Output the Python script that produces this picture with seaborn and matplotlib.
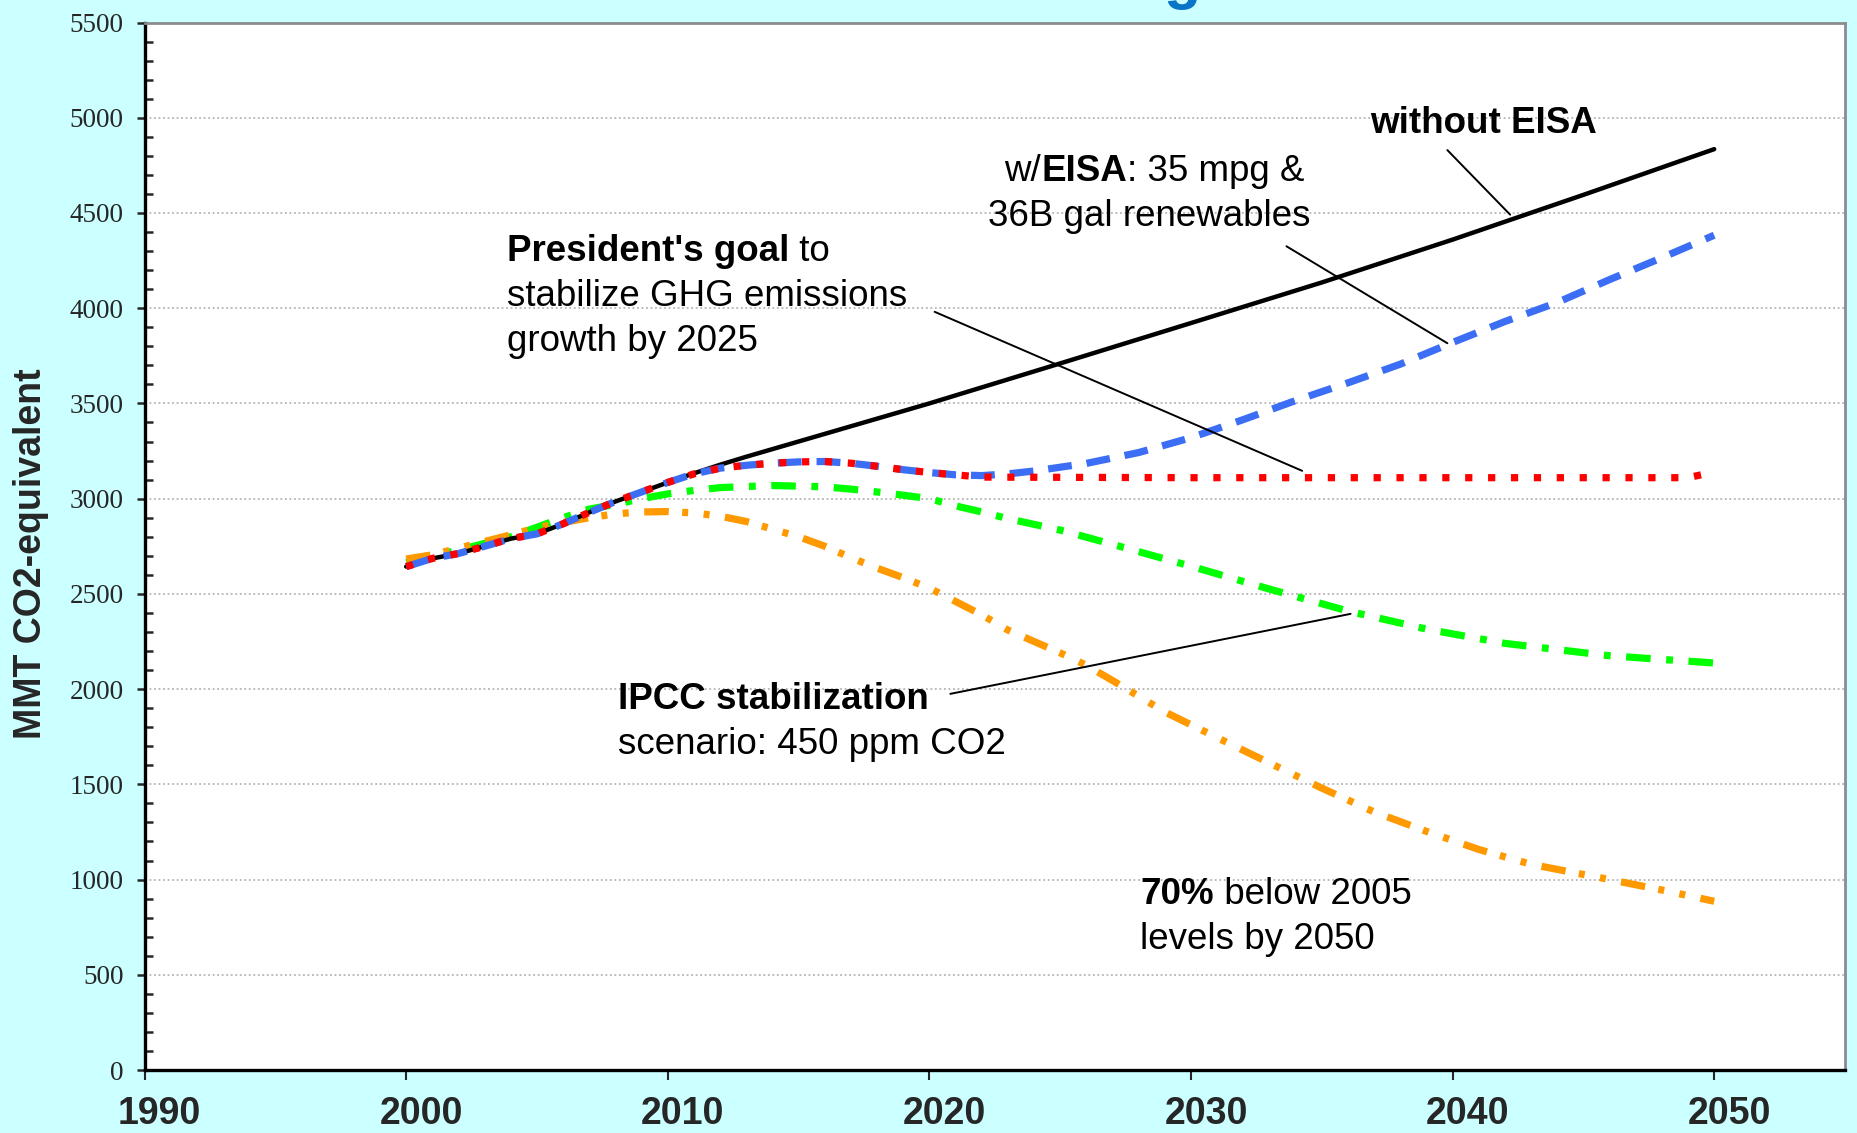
import matplotlib
matplotlib.use("Agg")
import matplotlib.pyplot as plt
import matplotlib.transforms as mtransforms
from matplotlib.ticker import MultipleLocator
import seaborn as sns

# --- values (MMT CO2-equivalent) ---
without_years = [2000, 2001, 2002, 2003, 2004, 2005, 2006, 2007, 2008, 2009, 2010,
                 2011, 2012, 2013, 2015, 2018, 2020, 2025, 2030, 2035, 2040, 2045, 2050]
without_vals = [2643, 2686, 2712, 2750, 2790, 2815, 2868, 2928, 2985, 3035, 3085,
                3133, 3178, 3220, 3300, 3420, 3500, 3710, 3922, 4135, 4360, 4595, 4835]

eisa_years = [2000, 2001, 2002, 2003, 2004, 2005, 2006, 2007, 2008, 2009, 2010,
              2011, 2012, 2013, 2014, 2015, 2016, 2017, 2018, 2019, 2020, 2021, 2022,
              2023, 2024, 2025, 2026, 2028, 2030, 2032, 2034, 2036, 2038, 2040,
              2042, 2044, 2046, 2048, 2050]
eisa_vals = [2643, 2686, 2712, 2750, 2790, 2815, 2868, 2928, 2985, 3035, 3085,
             3130, 3160, 3175, 3186, 3193, 3195, 3186, 3170, 3152, 3137, 3125, 3121,
             3130, 3145, 3165, 3185, 3242, 3320, 3415, 3515, 3608, 3706, 3820,
             3930, 4030, 4150, 4265, 4383]

goal_years = [2000, 2001, 2002, 2003, 2004, 2005, 2006, 2007, 2008, 2009, 2010,
              2011, 2012, 2013, 2014, 2015, 2016, 2017, 2018, 2019, 2020, 2021, 2022,
              2030, 2040, 2049, 2050]
goal_vals = [2643, 2686, 2712, 2750, 2790, 2815, 2868, 2928, 2985, 3035, 3085,
             3130, 3160, 3175, 3186, 3193, 3195, 3186, 3170, 3152, 3137, 3125, 3113,
             3110, 3110, 3110, 3140]

ipcc_years = [2000, 2001, 2002, 2003, 2004, 2005, 2006, 2007, 2008, 2009, 2010,
              2011, 2012, 2014, 2016, 2017, 2018, 2019, 2020, 2021, 2022, 2023,
              2025, 2027, 2030, 2033, 2036, 2039, 2042, 2046, 2050]
ipcc_vals = [2665, 2700, 2730, 2765, 2800, 2850, 2900, 2945, 2970, 3000, 3025,
             3043, 3058, 3069, 3062, 3050, 3035, 3018, 3000, 2962, 2930, 2895,
             2835, 2760, 2645, 2525, 2410, 2315, 2240, 2175, 2137]

cut70_years = [2000, 2001, 2002, 2003, 2004, 2005, 2006, 2007, 2008, 2009, 2010,
               2011, 2012, 2013, 2014, 2015, 2016, 2017, 2018, 2019, 2020, 2021,
               2022, 2023, 2024, 2025, 2026, 2027, 2029, 2031, 2033, 2035, 2037,
               2039, 2041, 2043, 2046, 2048, 2050]
cut70_vals = [2683, 2705, 2740, 2775, 2810, 2847, 2875, 2900, 2920, 2930, 2932,
              2925, 2908, 2880, 2840, 2800, 2750, 2690, 2635, 2585, 2530, 2460,
              2390, 2310, 2250, 2190, 2125, 2045, 1880, 1745, 1612, 1480, 1355,
              1253, 1158, 1080, 1000, 945, 886]

x_ticks = [1990, 2000, 2010, 2020, 2030, 2040, 2050]
y_ticks = list(range(0, 5501, 500))

# leader lines: (text end, curve end)
leaders = [
    ((2039.8, 4830), (2042.2, 4491)),
    ((2033.65, 4325), (2039.8, 3816)),
    ((2020.2, 3981), (2034.25, 3146)),
    ((2020.8, 1975), (2036.1, 2395)),
]

sns.set_theme(style="white")
plt.rcParams["font.family"] = ["Liberation Sans", "DejaVu Sans"]

fig = plt.figure(figsize=(18.58, 11.33), dpi=100, facecolor="#ccffff")
ax = fig.add_axes([144.6 / 1858, 63 / 1133, 1700.4 / 1858, 1047.5 / 1133])
ax.set_facecolor("white")

lw = 5.2
sns.lineplot(x=ipcc_years, y=ipcc_vals, ax=ax, color="#00ff00", lw=lw,
             linestyle=(0, (3.4, 2.15, 0.95, 2.15)))
sns.lineplot(x=cut70_years, y=cut70_vals, ax=ax, color="#ff9900", lw=lw,
             linestyle=(0, (3.4, 1.86, 0.83, 2.15, 0.83, 2.15)))
sns.lineplot(x=without_years, y=without_vals, ax=ax, color="black", lw=3.2)
sns.lineplot(x=eisa_years, y=eisa_vals, ax=ax, color="#3b6ef5", lw=lw,
             linestyle=(0, (3.3, 2.07)))
sns.lineplot(x=goal_years, y=goal_vals, ax=ax, color="#ff0000", lw=lw,
             linestyle=(0, (1.0, 2.17)))

for start, end in leaders:
    ax.annotate("", xy=end, xytext=start,
                arrowprops=dict(arrowstyle="-", color="black", lw=1.4,
                                shrinkA=0, shrinkB=0))

ax.set_xlim(1990, 2055)
ax.set_ylim(0, 5500)
ax.set_xticks(x_ticks)
ax.set_yticks(y_ticks)
ax.yaxis.set_minor_locator(MultipleLocator(100))
ax.grid(axis="y", which="major", linestyle=(0, (1, 1.5)), color="#b4b4b4", lw=1.3)
ax.set_axisbelow(True)

for side in ["left", "bottom"]:
    ax.spines[side].set_color("black")
    ax.spines[side].set_linewidth(2.4)
for side in ["top", "right"]:
    ax.spines[side].set_color("#8c8c8c")
    ax.spines[side].set_linewidth(2)

ax.tick_params(axis="y", which="major", direction="out", length=6, width=1.8,
               labelsize=19.5, pad=9, labelfontfamily="Liberation Serif", left=True)
ax.tick_params(axis="y", which="minor", direction="in", length=6, width=1.8, left=True)
ax.tick_params(axis="x", which="major", direction="out", length=7.5, width=1.5,
               labelsize=27, pad=11, bottom=True)
shift = mtransforms.ScaledTranslation(0.15, 0, fig.dpi_scale_trans)
for lbl in ax.get_xticklabels():
    lbl.set_fontweight("bold")
    lbl.set_transform(lbl.get_transform() + shift)

ax.set_xlabel("")
ax.set_ylabel("MMT CO2-equivalent", fontsize=27, fontweight="bold")
ax.yaxis.set_label_coords(-0.056, 0.493)

renderer = fig.canvas.get_renderer()


def rich_text(x, y, parts, ha="left", size=26.5):
    widths = []
    for s, w in parts:
        t = ax.text(x, y, s, fontsize=size, fontweight=w)
        widths.append(t.get_window_extent(renderer).width)
        t.remove()
    off = 0 if ha == "left" else -sum(widths) / 2
    for (s, w), wd in zip(parts, widths):
        tr = mtransforms.offset_copy(ax.transData, fig=fig, x=off, units="dots")
        ax.text(x, y, s, fontsize=size, fontweight=w, transform=tr,
                va="baseline", ha="left", color="black")
        off += wd


rich_text(2036.83, 4918, [("without EISA", "bold")])
rich_text(2028.6, 4668, [("w/", "normal"), ("EISA", "bold"), (": 35 mpg &", "normal")], ha="center")
rich_text(2028.4, 4431, [("36B gal renewables", "normal")], ha="center")
rich_text(2003.85, 4246, [("President's goal", "bold"), (" to", "normal")])
rich_text(2003.85, 4010, [("stabilize GHG emissions", "normal")])
rich_text(2003.85, 3774, [("growth by 2025", "normal")])
rich_text(2008.1, 1894, [("IPCC stabilization", "bold")])
rich_text(2008.1, 1659, [("scenario: 450 ppm CO2", "normal")])
rich_text(2028.06, 872, [("70%", "bold"), (" below 2005", "normal")])
rich_text(2028.06, 636, [("levels by 2050", "normal")])

# the title runs off the top edge; only the tail of its "g" shows
fig.text(1182 / 1858, 1 + 3 / 1133, "g", color="#0a74c6", fontsize=44,
         fontweight="bold", ha="center", va="baseline")

fig.savefig("out.png", dpi=100, facecolor=fig.get_facecolor())
